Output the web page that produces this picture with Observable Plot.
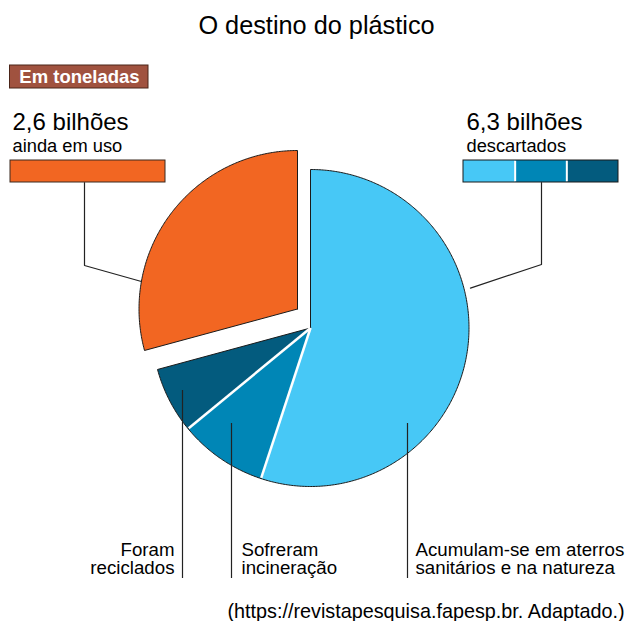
<!DOCTYPE html>
<html>
<head>
<meta charset="utf-8">
<script src="https://cdn.jsdelivr.net/npm/d3@7"></script>
<script src="https://cdn.jsdelivr.net/npm/@observablehq/plot@0.6"></script>
<style>
  html, body { margin: 0; padding: 0; background: #fff; }
</style>
</head>
<body>
<div id="chart"></div>
<script>
// ---- data (billions of tonnes) ----
const categories = ["Acumulam-se em aterros sanitários e na natureza", "Sofreram incineração", "Foram reciclados", "Ainda em uso"];
const values = [4.9, 0.8, 0.6, 2.6];
const colors = ["#47c8f6", "#0086b6", "#035b7e", "#f26622"];
const groupTotals = ["2,6 bilhões", "6,3 bilhões"];
const groupNames = ["ainda em uso", "descartados"];
const bottomLabels = [["Foram", "reciclados"], ["Sofreram", "incineração"], ["Acumulam-se em aterros", "sanitários e na natureza"]];
const title = "O destino do plástico";
const unitLabel = "Em toneladas";
const source = "(https://revistapesquisa.fapesp.br. Adaptado.)";
const explodedCategory = "Ainda em uso";

// ---- layout ----
const W = 625, H = 621, CX = 310, CY = 327.5, R = 158.5;
const ux = p => (p - CX) / R;
const uy = p => (CY - p) / R;
const EXPLODE = [-13 / R, 19 / R];

const data = categories.map((c, i) => ({category: c, value: values[i], color: colors[i]}));
const arcs = d3.pie().sort(null).value(d => d.value)(data);

const slicePts = [];
arcs.forEach((a, i) => {
  const off = a.data.category === explodedCategory ? EXPLODE : [0, 0];
  const key = a.data.category, color = a.data.color;
  slicePts.push({key, color, x: off[0], y: off[1]});
  const n = Math.max(4, Math.ceil((a.endAngle - a.startAngle) / 0.01));
  for (let k = 0; k <= n; k++) {
    const t = a.startAngle + (a.endAngle - a.startAngle) * k / n;
    slicePts.push({key, color, x: off[0] + Math.sin(t), y: off[1] + Math.cos(t)});
  }
  slicePts.push({key, color, x: off[0], y: off[1]});
});

// white separators between the discarded (blue) slices
const seps = arcs.slice(0, 2).map(a => ({x1: 0, y1: 0, x2: 0.995 * Math.sin(a.endAngle), y2: 0.995 * Math.cos(a.endAngle)}));

// leader lines
const aOr = 280 * Math.PI / 180;
const orangeLeader = [
  {x: ux(84), y: uy(182)}, {x: ux(84), y: uy(265)},
  {x: EXPLODE[0] + Math.sin(aOr), y: EXPLODE[1] + Math.cos(aOr)}
].map(d => ({...d, k: "o"}));
const aBl = 76 * Math.PI / 180;
const blueLeader = [
  {x: ux(541), y: uy(182)}, {x: ux(541), y: uy(264)},
  {x: 1.04 * Math.sin(aBl), y: 1.04 * Math.cos(aBl)}
].map(d => ({...d, k: "b"}));

const bottomLines = [
  {x: ux(182), y1: uy(390), y2: uy(578)},
  {x: ux(231), y1: uy(423), y2: uy(578)},
  {x: ux(407), y1: uy(423), y2: uy(578)}
];
const bottomX = [174, 241, 415];
const bottomAnchor = ["end", "start", "start"];
const bottomText = [];
bottomLabels.forEach((lines, i) => lines.forEach((t, j) => bottomText.push({t, x: ux(bottomX[i]), y: uy(j === 0 ? 555 : 573), anchor: bottomAnchor[i]})));

// legend boxes
const orangeBox = [{x1: ux(10), x2: ux(165), y1: uy(160), y2: uy(182), fill: colors[3]}];
const bx0 = 463, bx1 = 618, bw = (bx1 - bx0) / 3;
const blueBox = [0, 1, 2].map(i => ({x1: ux(bx0 + i * bw), x2: ux(bx0 + (i + 1) * bw), y1: uy(160), y2: uy(182), fill: colors[i]}));
const blueSeps = [1, 2].map(i => ({x: ux(bx0 + i * bw), y1: uy(160.5), y2: uy(181.5)}));

const chart = Plot.plot({
  width: W, height: H, margin: 0,
  x: {domain: [ux(0), ux(W)], range: [0, W], axis: null},
  y: {domain: [uy(H), uy(0)], range: [H, 0], axis: null},
  color: {type: "identity"},
  style: {fontFamily: "'Liberation Sans', Arial, sans-serif", background: "#fff", color: "#000"},
  marks: [
    // pie slices
    Plot.line(slicePts, {x: "x", y: "y", z: "key", fill: "color", stroke: "#1a1a1a", strokeWidth: 1, strokeLinejoin: "round"}),
    Plot.link(seps, {x1: "x1", y1: "y1", x2: "x2", y2: "y2", stroke: "#fff", strokeWidth: 2.5}),
    // leader lines
    Plot.line(orangeLeader, {x: "x", y: "y", z: "k", stroke: "#222", strokeWidth: 1.2}),
    Plot.line(blueLeader, {x: "x", y: "y", z: "k", stroke: "#222", strokeWidth: 1.2}),
    Plot.ruleX(bottomLines, {x: "x", y1: "y1", y2: "y2", stroke: "#222", strokeWidth: 1.2}),
    // legend bars
    Plot.rect(orangeBox, {x1: "x1", x2: "x2", y1: "y1", y2: "y2", fill: "fill", stroke: "#3a2a20", strokeWidth: 1}),
    Plot.rect(blueBox, {x1: "x1", x2: "x2", y1: "y1", y2: "y2", fill: "fill"}),
    Plot.ruleX(blueSeps, {x: "x", y1: "y1", y2: "y2", stroke: "#fff", strokeWidth: 2}),
    Plot.rect([{x1: ux(bx0), x2: ux(bx1), y1: uy(160), y2: uy(182)}], {x1: "x1", x2: "x2", y1: "y1", y2: "y2", fill: "none", stroke: "#1a1a1a", strokeWidth: 1}),
    // unit badge
    Plot.rect([{x1: ux(9.5), x2: ux(148), y1: uy(65), y2: uy(88)}], {x1: "x1", x2: "x2", y1: "y1", y2: "y2", fill: "#a0523f", stroke: "#4a2418", strokeWidth: 1}),
    Plot.text([unitLabel], {x: ux(79), y: uy(82.5), text: d => d, fill: "#fff", fontWeight: "bold", fontSize: 18.5, textAnchor: "middle", lineAnchor: "bottom"}),
    // title
    Plot.text([title], {x: ux(316), y: uy(33), text: d => d, fontSize: 25.3, textAnchor: "middle", lineAnchor: "bottom", fill: "#000"}),
    // group labels
    Plot.text(groupTotals, {x: (d, i) => ux(i === 0 ? 12 : 466), y: uy(129), text: d => d, fontSize: 24, textAnchor: "start", lineAnchor: "bottom", fill: "#000"}),
    Plot.text(groupNames, {x: (d, i) => ux(i === 0 ? 12 : 466), y: uy(151), text: d => d, fontSize: 18.3, textAnchor: "start", lineAnchor: "bottom", fill: "#000"}),
    // bottom labels
    Plot.text(bottomText.filter(d => d.anchor === "end"), {x: "x", y: "y", text: "t", fontSize: 18.7, textAnchor: "end", lineAnchor: "bottom", fill: "#000"}),
    Plot.text(bottomText.filter(d => d.anchor === "start"), {x: "x", y: "y", text: "t", fontSize: 18.7, textAnchor: "start", lineAnchor: "bottom", fill: "#000"}),
    // source
    Plot.text([source], {x: ux(227), y: uy(617), text: d => d, fontSize: 19.8, textAnchor: "start", lineAnchor: "bottom", fill: "#000"})
  ]
});
document.getElementById("chart").append(chart);
</script>
</body>
</html>
